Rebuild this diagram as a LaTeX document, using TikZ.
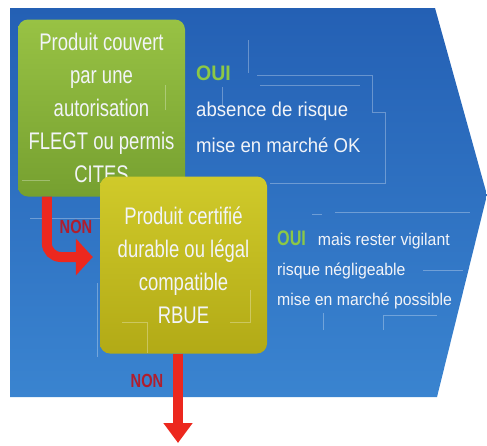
\documentclass[tikz,border=0pt]{standalone}
\usepackage{fontspec}
\setmainfont{Liberation Sans}
\newfontfamily\boxfont[FakeStretch=0.77]{Liberation Sans}
\newfontfamily\notefont[FakeStretch=0.93]{Liberation Sans}
\usetikzlibrary{arrows.meta}
\definecolor{bgtop}{RGB}{36,96,180}
\definecolor{bgbottom}{RGB}{58,132,208}
\definecolor{greentop}{RGB}{152,194,68}
\definecolor{greenbottom}{RGB}{118,160,48}
\definecolor{yellowtop}{RGB}{208,202,42}
\definecolor{yellowbottom}{RGB}{178,170,22}
\definecolor{arrowred}{RGB}{236,40,30}
\definecolor{nonred}{RGB}{176,30,45}
\definecolor{ouigreen}{RGB}{140,200,70}
\definecolor{txtwhite}{RGB}{242,244,248}
\tikzset{
  box/.style={rounded corners=10pt, minimum width=167pt, minimum height=177pt,
    inner sep=0pt, align=center, text=txtwhite,
    font=\boxfont\fontsize{24}{33}\selectfont},
  note/.style={align=left, inner sep=0pt, text=txtwhite},
  nonlabel/.style={inner sep=0pt, anchor=base, text=nonred,
    font=\boxfont\fontsize{19}{19}\selectfont\bfseries},
  nonarrow/.style={draw=arrowred, line width=10pt},
  deco/.style={draw=white, opacity=0.3, line width=0.7pt}
}
\begin{document}
\begin{tikzpicture}[x=1pt,y=-1pt]
  \useasboundingbox (0,0) rectangle (487,445);
  \shade[top color=bgtop, bottom color=bgbottom]
    (10,8) -- (435,8) -- (487,195) -- (437,397) -- (10,397) -- cycle;
  \draw[deco] (248,40) -- (248,73) (257,75) -- (372,75) -- (372,112) -- (385,112) -- (385,183) -- (270,183)
    (260,85) -- (360,85) (222,87) -- (222,107)
    (335,212) -- (470,212) (312,214) -- (322,214) (423,270) -- (463,270)
    (383,315) -- (437,315) (383,315) -- (383,330) (323,313) -- (323,330)
    (30,218) -- (102,218) (97,283) -- (97,357);
  \node[box, top color=greentop, bottom color=greenbottom] (flegt) at (101.5,108)
    {Produit couvert\\par une\\autorisation\\FLEGT ou permis\\CITES};
  \node[box, top color=yellowtop, bottom color=yellowbottom] (rbue) at (183.5,265)
    {Produit certifié\\durable ou légal\\compatible\\RBUE};
  \draw[deco] (122,322) -- (147,322) -- (147,353) (230,322) -- (250,322) -- (250,290)
    (165,85) -- (165,110) (22,180) -- (50,180);
  \coordinate (exit) at (178,443);
  \draw[nonarrow, rounded corners=14pt, -{Triangle[length=17pt,width=36pt]}]
    ([xshift=29pt]flegt.south west) |- ([xshift=-7pt,yshift=8pt]rbue.west);
  \draw[nonarrow, -{Triangle[length=20pt,width=28pt]}] (rbue.south -| exit) -- (exit);
  \node[nonlabel] (non1) at (76,233) {NON};
  \node[nonlabel] (non2) at (147,387) {NON};
  \node[note, anchor=base west, font=\notefont\fontsize{20}{36}\selectfont] (oui1) at (196,152)
    {{\fontsize{21}{21}\selectfont\bfseries\color{ouigreen}OUI}\\absence de risque\\mise en marché OK};
  \node[note, anchor=base west, font=\notefont\fontsize{17}{30}\selectfont] (oui2) at (277,305)
    {{\boxfont\fontsize{21}{21}\selectfont\bfseries\color{ouigreen}OUI}\hspace{12pt}mais rester vigilant\\risque négligeable\\mise en marché possible};
\end{tikzpicture}
\end{document}
